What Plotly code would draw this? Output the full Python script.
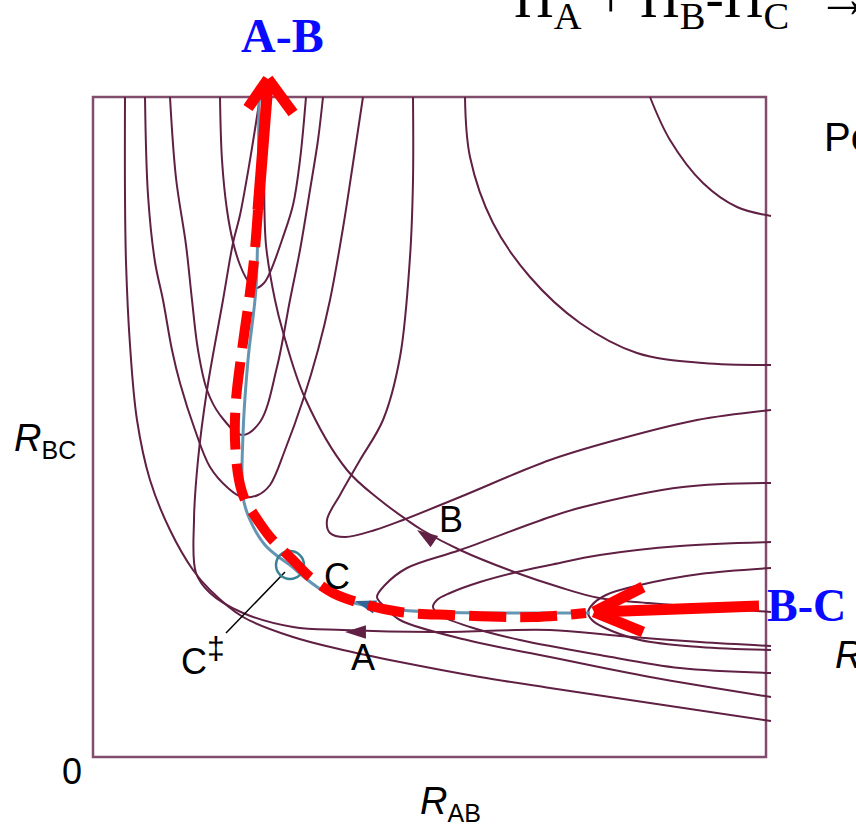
import plotly.graph_objects as go

# ---------------- contour curves (R_AB, R_BC in arbitrary units) ----------------
u1_x = [1.27, 1.29, 1.34, 1.40, 1.47, 1.55, 1.63, 1.71, 1.78, 1.89, 2.00, 2.07, 2.13]
u1_y = [6.60, 5.97, 5.47, 5.15, 4.92, 4.76, 4.69, 4.74, 4.87, 5.17, 5.52, 5.97, 6.60]

u2_x = [0.77, 0.83, 0.93, 0.99, 1.05, 1.14, 1.27, 1.49, 1.67, 1.84, 1.97, 2.07, 2.17, 2.25, 2.30]
u2_y = [6.60, 5.79, 5.12, 4.57, 4.07, 3.67, 3.42, 3.22, 3.35, 3.90, 4.57, 5.07, 5.67, 6.17, 6.60]

u3_x = [0.52, 0.55, 0.62, 0.70, 0.79, 0.87, 1.02, 1.17, 1.35, 1.49, 1.65, 1.77, 1.92, 2.10, 2.25, 2.37, 2.50, 2.59, 2.70]
u3_y = [6.60, 5.62, 4.95, 4.57, 4.07, 3.74, 3.27, 2.90, 2.69, 2.60, 2.62, 2.72, 3.07, 3.57, 4.07, 4.57, 5.29, 5.87, 6.60]

l1_x = [0.32, 0.32, 0.33, 0.37, 0.44, 0.57, 0.77, 1.00, 1.17, 1.50, 2.00, 2.50, 3.07, 3.87, 4.57, 5.57, 6.78]
l1_y = [6.60, 5.62, 4.95, 4.12, 3.37, 2.77, 2.27, 1.87, 1.67, 1.40, 1.20, 1.07, 0.95, 0.80, 0.69, 0.54, 0.36]

traj_a_x = [1.67, 1.57, 1.47, 1.40, 1.30, 1.14, 1.05, 1.01, 1.03, 1.17, 1.50, 2.00, 2.50, 3.40, 4.57, 5.27, 6.07, 6.78]
traj_a_y = [6.60, 5.97, 5.42, 5.14, 4.57, 3.67, 2.97, 2.37, 1.84, 1.64, 1.44, 1.30, 1.27, 1.25, 1.27, 1.21, 1.15, 1.11]

traj_b_x = [1.69, 1.71, 1.73, 1.82, 1.90, 2.12, 2.54, 2.87, 3.14, 3.29, 3.67, 4.24, 4.66, 5.06, 5.56, 6.07, 6.78]
traj_b_y = [6.60, 5.77, 5.12, 4.57, 4.25, 3.59, 2.87, 2.57, 2.37, 2.27, 2.07, 1.84, 1.70, 1.59, 1.54, 1.50, 1.45]

hp_x = [3.20, 3.20, 3.17, 3.07, 2.90, 2.67, 2.47, 2.34, 2.37, 2.52, 2.82, 3.10, 3.67, 4.57, 5.23, 6.04, 6.78]
hp_y = [6.60, 5.77, 5.00, 4.00, 3.37, 2.97, 2.62, 2.37, 2.24, 2.20, 2.27, 2.37, 2.60, 2.97, 3.17, 3.37, 3.47]

arc1_x = [3.72, 3.77, 4.00, 4.37, 4.87, 5.44, 6.10, 6.78]
arc1_y = [6.60, 6.00, 5.34, 4.80, 4.34, 4.04, 3.94, 3.92]

arc2_x = [5.57, 5.77, 6.10, 6.44, 6.78]
arc2_y = [6.60, 6.17, 5.74, 5.50, 5.41]

vc_x = [6.78, 5.90, 4.90, 4.57, 3.67, 3.14, 2.92, 2.84, 2.92, 3.07, 3.74, 4.57, 5.57, 6.78]
vc_y = [2.74, 2.70, 2.50, 2.40, 2.07, 1.89, 1.72, 1.60, 1.50, 1.37, 1.17, 1.00, 0.80, 0.60]

vd_x = [6.78, 5.87, 5.07, 4.57, 4.24, 3.87, 3.57, 3.44, 3.40, 3.47, 3.77, 4.27, 5.07, 5.87, 6.78]
vd_y = [2.15, 2.11, 2.02, 1.92, 1.85, 1.75, 1.64, 1.57, 1.50, 1.42, 1.30, 1.17, 1.02, 0.89, 0.84]

ve_x = [6.78, 6.07, 5.47, 5.13, 4.99, 4.95, 4.99, 5.10, 5.47, 6.07, 6.78]
ve_y = [1.89, 1.83, 1.72, 1.62, 1.52, 1.44, 1.37, 1.30, 1.17, 1.10, 1.07]

# reaction coordinate (thin blue)
path_x = [1.66, 1.65, 1.63, 1.55, 1.50, 1.50, 1.57, 1.72, 1.87, 1.97, 2.12, 2.32, 2.57, 2.97, 3.40, 4.07, 4.97]
path_y = [6.57, 5.57, 4.69, 3.97, 3.22, 2.60, 2.37, 2.12, 1.99, 1.92, 1.79, 1.65, 1.55, 1.48, 1.45, 1.44, 1.44]

# red dashed overlay path
red_x = [1.65, 1.61, 1.56, 1.49, 1.43, 1.42, 1.46, 1.52, 1.60, 1.77, 2.00, 2.17, 2.40, 2.74, 3.07, 3.57, 4.40, 4.93]
red_y = [5.47, 4.97, 4.57, 4.07, 3.57, 3.17, 2.77, 2.57, 2.44, 2.20, 1.97, 1.80, 1.64, 1.52, 1.45, 1.42, 1.40, 1.44]

# red solid arrows (shaft, then the two barbs)
arrow_ab_x = [1.65, 1.75, None, 1.55, 1.75, None, 2.00, 1.75]
arrow_ab_y = [5.47, 6.74, None, 6.49, 6.78, None, 6.44, 6.78]
arrow_bc_x = [6.66, 5.04, None, 5.50, 5.01, None, 5.50, 5.01]
arrow_bc_y = [1.51, 1.45, None, 1.70, 1.45, None, 1.25, 1.45]

# transition state marker and its leader
ts_x = [1.97]
ts_y = [1.92]
lead_x = [1.92, 1.33]
lead_y = [1.85, 1.24]

# small arrowheads on trajectories
head_x = [2.52, 3.24]
head_y = [1.25, 2.27]
head_angle = [-90, -56]
bhead_x = [2.62]
bhead_y = [1.56]

CONT = "rgb(96,32,68)"
FRAME = "rgb(128,78,108)"

fig = go.Figure()

curves = [(u1_x, u1_y), (u2_x, u2_y), (u3_x, u3_y), (l1_x, l1_y), (traj_a_x, traj_a_y),
          (traj_b_x, traj_b_y), (hp_x, hp_y), (arc1_x, arc1_y), (arc2_x, arc2_y),
          (vc_x, vc_y), (vd_x, vd_y), (ve_x, ve_y)]
for cx, cy in curves:
    fig.add_trace(go.Scatter(x=cx, y=cy, mode="lines", line=dict(color=CONT, width=2, shape="spline", smoothing=1.0),
                             hoverinfo="skip"))

fig.add_trace(go.Scatter(x=path_x, y=path_y, mode="lines",
                         line=dict(color="rgb(100,150,180)", width=3, shape="spline"), hoverinfo="skip"))
fig.add_trace(go.Scatter(x=lead_x, y=lead_y, mode="lines", line=dict(color="black", width=1.5), hoverinfo="skip"))
fig.add_trace(go.Scatter(x=ts_x, y=ts_y, mode="markers",
                         marker=dict(symbol="circle-open", size=28, color="rgb(60,130,150)", line=dict(width=2.5)),
                         hoverinfo="skip"))
fig.add_trace(go.Scatter(x=head_x, y=head_y, mode="markers",
                         marker=dict(symbol="arrow", size=22, angle=head_angle, color=CONT), hoverinfo="skip"))
fig.add_trace(go.Scatter(x=bhead_x, y=bhead_y, mode="markers",
                         marker=dict(symbol="arrow", size=22, angle=-73, color="rgb(50,100,150)"), hoverinfo="skip"))

fig.add_trace(go.Scatter(x=red_x, y=red_y, mode="lines",
                         line=dict(color="#ff0000", width=10, dash="37px,14px", shape="spline"), hoverinfo="skip"))
fig.add_trace(go.Scatter(x=arrow_ab_x, y=arrow_ab_y, mode="lines", line=dict(color="#ff0000", width=11),
                         hoverinfo="skip"))
fig.add_trace(go.Scatter(x=arrow_bc_x, y=arrow_bc_y, mode="lines", line=dict(color="#ff0000", width=11),
                         hoverinfo="skip"))

fig.add_shape(type="rect", xref="x", yref="y", x0=0, y0=0, x1=6.73, y1=6.60,
              line=dict(color=FRAME, width=2.5), layer="below")

SANS = "Liberation Sans, Arial, sans-serif"
SERIF = "Liberation Serif, Times New Roman, serif"

def ann(text, x, y, size, color="black", family=SANS, xanchor="center", yanchor="middle"):
    fig.add_annotation(text=text, x=x, y=y, xref="x", yref="y", showarrow=False,
                       font=dict(size=size, color=color, family=family), xanchor=xanchor, yanchor=yanchor)

ann("<b>A-B</b>", 1.89, 7.22, 48, color="#0a0aff", family=SERIF)
ann("<b>B-C</b>", 6.72, 1.52, 46, color="#0a0aff", family=SERIF, xanchor="left")
ann("H<sub>A</sub> + H<sub>B</sub>-H<sub>C</sub>  → H<sub>A</sub>-H<sub>B</sub> + H<sub>C</sub>", 4.19, 7.18, 55,
    family=SERIF, xanchor="left", yanchor="bottom")
ann("Potential energy", 7.29, 6.20, 40, xanchor="left")
ann("<i>R</i><sub><span style='font-size:25px'>BC</span></sub>", -0.81, 3.17, 38, xanchor="left")
ann("<i>R</i><sub><span style='font-size:25px'>AB</span></sub>", 3.25, -0.46, 38, xanchor="left")
ann("<i>R</i>", 7.40, 1.02, 38, xanchor="left")
ann("0", -0.21, -0.14, 36)
ann("A", 2.70, 1.00, 36)
ann("B", 3.58, 2.38, 36)
ann("C", 2.44, 1.81, 36)
ann("C<sup><span style='font-size:32px'>‡</span></sup>", 1.10, 1.01, 36)

fig.update_layout(
    width=856, height=829, margin=dict(l=0, r=0, t=0, b=0),
    paper_bgcolor="white", plot_bgcolor="white", showlegend=False,
    xaxis=dict(range=[-0.93, 7.63], visible=False, fixedrange=True),
    yaxis=dict(range=[-0.72, 7.57], visible=False, fixedrange=True),
)

fig.write_html("out.html")
